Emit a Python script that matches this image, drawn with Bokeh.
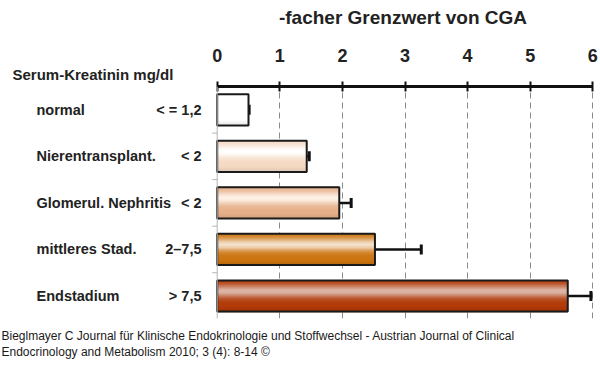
import numpy as np
from bokeh.plotting import figure
from bokeh.layouts import row, column
from bokeh.models import ColumnDataSource, Range1d, FixedTicker, Whisker, TeeHead, Span
from bokeh.core.properties import value
from bokeh.embed import file_html
from bokeh.resources import INLINE

# ---- data ----
categories = ["normal", "Nierentransplant.", "Glomerul. Nephritis", "mittleres Stad.", "Endstadium"]
creatinine = ["< = 1,2", "< 2", "< 2", "2\u20137,5", "> 7,5"]
fold_values = [0.50, 1.43, 1.95, 2.52, 5.60]
fold_upper = [0.51, 1.47, 2.14, 3.26, 5.97]
x_ticks = [0, 1, 2, 3, 4, 5, 6]
header_text = "Serum-Kreatinin mg/dl"
title_text = "-facher Grenzwert von CGA"
footer_lines = ["Bieglmayer C Journal f\u00fcr Klinische Endokrinologie und Stoffwechsel - Austrian Journal of Clinical",
                "Endocrinology and Metabolism 2010; 3 (4): 8-14 \u00a9"]

# ---- styles ----
FONT = "Liberation Sans"
TXT = "#222222"
edge_colors = ["#ffffff", "#f5d9c3", "#e6b089", "#cc7410", "#b23a08"]
light_colors = ["#ffffff", "#ffffff", "#fdf1e7", "#f3dfca", "#dcb6a6"]
BAR_H = 0.67
N_STRIPES = 24
Y_RANGE = (-0.483, 4.5005)

n = len(categories)
ys = [n - 1 - i for i in range(n)]
src = ColumnDataSource(dict(y=ys, v=fold_values, u=fold_upper, cat=categories, cr=creatinine))


def base_fig(**kw):
    f = figure(output_backend="svg", toolbar_location=None, **kw)
    f.outline_line_color = None
    f.background_fill_color = "white"
    f.border_fill_color = "white"
    f.xgrid.visible = False
    f.ygrid.visible = False
    return f


# ---------------- left panel: labels ----------------
left = base_fig(width=205, height=320, x_axis_location=None, y_axis_location=None,
                x_range=Range1d(-3.462, -0.187), y_range=Range1d(*Y_RANGE),
                min_border_left=0, min_border_right=0, min_border_top=86, min_border_bottom=2)
left.title.text = header_text
left.title.align = "left"
left.title.offset = 12
left.title.standoff = 7
left.title.text_font = FONT
left.title.text_font_size = "15px"
left.title.text_font_style = "bold"
left.title.text_color = TXT
left.text(x=-2.887, y="y", text="cat", source=src, text_font=value(FONT), text_font_size="14.5px",
          text_font_style="bold", text_color=TXT, text_baseline="middle", text_align="left")
left.text(x=-0.251, y="y", text="cr", source=src, text_font=value(FONT), text_font_size="14.5px",
          text_font_style="bold", text_color=TXT, text_baseline="middle", text_align="right")

# ---------------- right panel: bars ----------------
p = base_fig(width=395, height=320, x_axis_location="above", y_axis_location=None,
             x_range=Range1d(-0.187, 6.123), y_range=Range1d(*Y_RANGE),
             min_border_left=0, min_border_right=0, min_border_top=86, min_border_bottom=2)

ax = p.xaxis[0]
ax.ticker = FixedTicker(ticks=x_ticks)
ax.bounds = (0, 6)
ax.axis_line_width = 3
ax.axis_line_color = "#111111"
ax.major_tick_in = 5
ax.major_tick_out = 5
ax.major_tick_line_width = 2
ax.major_tick_line_color = "#111111"
ax.minor_tick_line_color = None
ax.major_label_text_font = FONT
ax.major_label_text_font_size = "18px"
ax.major_label_text_font_style = "bold"
ax.major_label_text_color = TXT
ax.major_label_standoff = 20
ax.axis_label = title_text
ax.axis_label_text_font = FONT
ax.axis_label_text_font_size = "19px"
ax.axis_label_text_font_style = "bold"
ax.axis_label_text_color = TXT
ax.axis_label_standoff = 18

g = p.xgrid[0]
g.visible = True
g.ticker = FixedTicker(ticks=x_ticks[1:])
g.grid_line_color = "#8a8a8a"
g.grid_line_dash = "6 4"
g.grid_line_width = 1

# thin left axis line with boundary ticks
p.add_layout(Span(location=0, dimension="height", line_color="#b5b5b5", line_width=1))
p.scatter(x=[-0.04] * n, y=[y - 0.5 for y in ys], marker="dash", size=5,
          line_color="#b5b5b5", line_width=1)

# gradient bars built from overlapping stripes
sx, sy, sc = [], [], []
h = BAR_H / N_STRIPES
for i, (v, y) in enumerate(zip(fold_values, ys)):
    e = np.array([int(edge_colors[i][j:j + 2], 16) for j in (1, 3, 5)], float)
    l = np.array([int(light_colors[i][j:j + 2], 16) for j in (1, 3, 5)], float)
    for k in range(N_STRIPES):
        pos = (k + 0.5) / N_STRIPES
        w = np.exp(-((pos - 0.36) / 0.2) ** 2)
        c = e * (1 - w) + l * w
        if pos > 0.85:
            c = c * (1 - 0.6 * (pos - 0.85))
        sx.append(v)
        sy.append(y + BAR_H / 2 - (k + 0.5) * h)
        sc.append("#%02x%02x%02x" % tuple(int(round(t)) for t in c))
p.hbar(y=sy, left=0, right=sx, height=h * 1.8, fill_color=sc, line_color=None)

p.hbar(y="y", left=0, right="v", height=BAR_H, source=src, fill_color=None,
       line_color="#1a1a1a", line_width=2)

p.add_layout(Whisker(base="y", lower="v", upper="u", dimension="width", source=src,
                     line_width=2.5, line_color="#111111",
                     upper_head=TeeHead(size=10, line_width=3, line_color="#111111"),
                     lower_head=None))

# ---------------- footer ----------------
foot = base_fig(width=600, height=66, x_axis_location=None, y_axis_location=None,
                x_range=Range1d(0, 600), y_range=Range1d(0, 66),
                min_border_left=0, min_border_right=0, min_border_top=0, min_border_bottom=0)
foot.text(x=[1, 1], y=[51, 35], text=footer_lines, text_font=value(FONT), text_font_size="12px",
          text_color="#1a1a1a", text_baseline="middle", text_align="left")

layout = column(row(left, p, spacing=0), foot, spacing=0)

open("out.html", "w").write(file_html(layout, INLINE))
